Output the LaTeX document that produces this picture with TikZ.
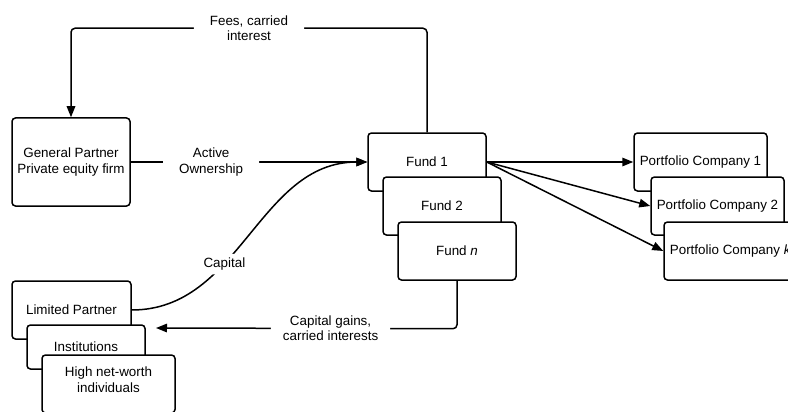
\documentclass[tikz,border=0pt]{standalone}
\usepackage{fontspec}
\setmainfont{Liberation Sans}
\usetikzlibrary{arrows.meta, positioning, calc}

\begin{document}
\begin{tikzpicture}[x=1pt, y=-1pt, >={Triangle[length=11pt, width=8.5pt]},
  every node/.style={font=\fontsize{13.4pt}{15.5pt}\selectfont},
  box/.style={draw, fill=white, line width=1.5pt, rounded corners=3.5pt, align=center,
    minimum width=118pt, minimum height=58pt, inner sep=2pt},
  lbl/.style={fill=white, align=center, inner xsep=16pt, inner ysep=1pt},
  link/.style={->, line width=1.5pt, rounded corners=4pt}]

\useasboundingbox (0,0) rectangle (788,412);

% Nodes
\node (gp) [box, minimum height=88pt] at (71,162) {General Partner\\Private equity firm};

\node (fund1) [box] at (427,162) {Fund 1};
\node (fund2) [box] at (442,206) {Fund 2};
\node (fundn) [box] at (457,251) {Fund \textit{n}};

\node (pc1) [box, minimum width=133pt] at (700.5,162) {Portfolio Company 1};
\node (pc2) [box, minimum width=133pt] at (717.5,206) {Portfolio Company 2};
\node (pck) [box, minimum width=133pt] at (730.5,251) {Portfolio Company \textit{k}};

\node (lp) [box, minimum width=119pt] at (71.5,310) {Limited Partner};
\node (inst) [box, minimum height=44pt] at (86,347) {Institutions};
\node (hnw) [box, minimum width=133pt, text depth=9pt] at (108.5,384) {High net-worth\\individuals};

\coordinate (gainsend) at (156,328);

% Arrows
\draw[link] (fund1.north) -- ++(0,-104) -- node[lbl] {Fees, carried\\interest} ($(gp.north)+(0,-89)$) -- (gp.north);
\draw[link] (gp.east) -- node[lbl, pos=0.34] {Active\\Ownership} (fund1.west);
\draw[link] (lp.east) to[out=0, in=180] node[lbl, pos=0.37, inner sep=4pt] {Capital} (fund1.west);
\draw[link] (fundn.south) -- ++(0,48) -- node[lbl, pos=0.42, inner xsep=12pt] {Capital gains,\\carried interests} (gainsend);

\draw[link] (fund1.east) -- (pc1.west);
\draw[link] (fund1.east) -- (pc2.west);
\draw[link] (fund1.east) -- (pck.west);

\end{tikzpicture}
\end{document}
